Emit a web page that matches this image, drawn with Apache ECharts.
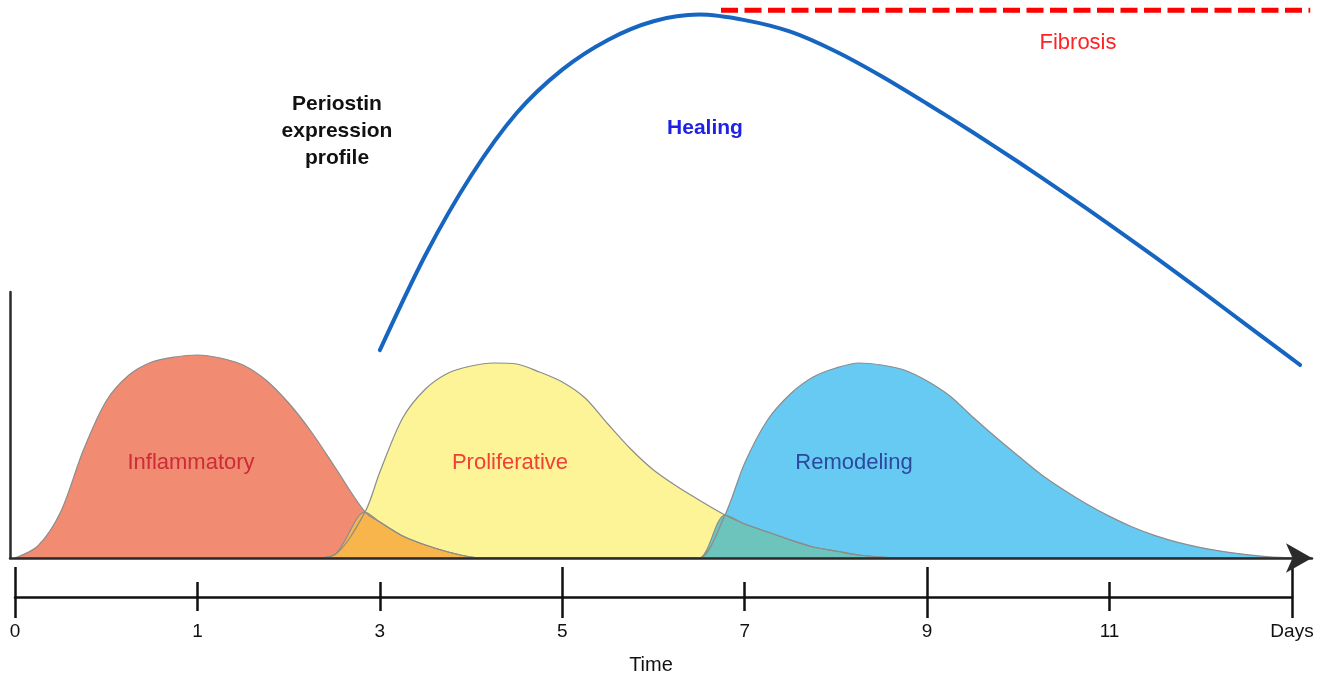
<!DOCTYPE html>
<html>
<head>
<meta charset="utf-8">
<title>Periostin expression profile</title>
<script src="https://cdn.jsdelivr.net/npm/echarts@6/dist/echarts.min.js"></script>
<style>
  html, body { margin: 0; padding: 0; background: #fff; }
  #chart { width: 1331px; height: 681px; }
</style>
</head>
<body>
<div id="chart"></div>
<script>
// timeline labels, one per evenly spaced position 0..7
const tickLabels = ['0', '1', '3', '5', '7', '9', '11', 'Days']
const longTicks = [0, 3, 5, 7] // positions that get the tall tick

// sample positions along the timeline, shared by the three phase curves
// (1.919 and 3.892 are where neighbouring phases cross)
const samplePos = [
  0, 0.125, 0.25, 0.375, 0.5, 0.625, 0.75, 0.875,
  1, 1.125, 1.25, 1.375, 1.5, 1.625, 1.75, 1.919,
  2, 2.125, 2.25, 2.375, 2.5, 2.625, 2.75, 2.875,
  3, 3.125, 3.25, 3.375, 3.5, 3.625, 3.75, 3.892,
  4, 4.125, 4.25, 4.375, 4.5, 4.625, 4.75, 4.875,
  5, 5.125, 5.25, 5.375, 5.5, 5.625, 5.75, 5.875,
  6, 6.125, 6.25, 6.375, 6.5, 6.625, 6.75, 6.875,
  7
]
const inflammatory = [
  0, 6, 23, 54, 78.5, 91.5, 98, 100.5,
  101.5, 100, 96.5, 89, 77.5, 63, 46, 23,
  18, 11, 6.5, 3, 0.5, 0, 0, 0,
  0, 0, 0, 0, 0, 0, 0, 0,
  0, 0, 0, 0, 0, 0, 0, 0,
  0, 0, 0, 0, 0, 0, 0, 0,
  0, 0, 0, 0, 0, 0, 0, 0,
  0
]
const proliferative = [
  0, 0, 0, 0, 0, 0, 0, 0,
  0, 0, 0, 0, 0, 0, 1.5, 23,
  43, 70, 84.5, 92.5, 96, 97.5, 97, 93,
  88, 80, 67, 54.5, 44, 36, 29, 21.5,
  17, 13, 9, 5.5, 3.5, 1.5, 0.5, 0,
  0, 0, 0, 0, 0, 0, 0, 0,
  0, 0, 0, 0, 0, 0, 0, 0,
  0
]
const remodeling = [
  0, 0, 0, 0, 0, 0, 0, 0,
  0, 0, 0, 0, 0, 0, 0, 0,
  0, 0, 0, 0, 0, 0, 0, 0,
  0, 0, 0, 0, 0, 0, 0, 21.5,
  47.5, 69, 82, 90.5, 95, 97.5, 96.5, 94,
  88.5, 81, 70.5, 60.5, 51, 41.8, 34, 27,
  20.8, 15.5, 11.2, 7.8, 5.2, 3.2, 1.7, 0.6,
  0
]

// periostin expression (healing curve) and the fibrosis level
const periostinPos = [2, 2.25, 2.5, 2.75, 3, 3.25, 3.5, 3.75, 4, 4.25, 4.5,
  4.75, 5, 5.25, 5.5, 5.75, 6, 6.25, 6.5, 6.75, 7, 7.044]
const healing = [37.8, 55.1, 69.5, 80.9, 88.8, 94.2, 97.6, 98.8, 97.8, 95.7, 92.1,
  87.6, 82.6, 77.4, 72.0, 66.4, 60.6, 54.7, 48.6, 42.4, 36.2, 35.1]
const fibrosisPos = [3.87, 7.1]
const fibrosisLevel = 99.6

const chart = echarts.init(document.getElementById('chart'))

const pairs = (xs, ys) => xs.map((x, i) => [x, ys[i]])
const overlap = (a, b) => a.map((v, i) => Math.min(v, b[i]))

function phase(name, values, fill) {
  return {
    name: name,
    type: 'line',
    xAxisIndex: 0,
    yAxisIndex: 0,
    data: pairs(samplePos, values),
    smooth: 0.3,
    symbol: 'none',
    silent: true,
    lineStyle: { color: '#8c8c8c', width: 1.2 },
    areaStyle: { color: fill, opacity: 1 }
  }
}

const axisColor = '#2b2b2b'
const hidden = { show: false }

function timelineAxis(long, inside, length, withLine, withLabel) {
  return {
    gridIndex: 2,
    type: 'category',
    data: tickLabels,
    boundaryGap: false,
    position: 'bottom',
    axisLine: { show: withLine, onZero: false, lineStyle: { color: '#111', width: 2.5 } },
    axisTick: {
      show: true,
      inside: inside,
      length: length,
      interval: (i) => longTicks.includes(i) === long,
      lineStyle: { color: '#111', width: 2.5 }
    },
    axisLabel: {
      show: withLabel,
      interval: 0,
      margin: 25,
      color: '#111',
      fontSize: 19,
      fontFamily: 'Liberation Sans Narrow, Liberation Sans, Arial, sans-serif'
    },
    splitLine: hidden
  }
}

chart.setOption({
  animation: false,
  backgroundColor: '#fff',
  grid: [
    { left: 10, right: 19, top: 292, height: 266, outerBoundsMode: 'none' },
    { left: 10, right: 19, top: 8, height: 550, outerBoundsMode: 'none' },
    { left: 15, right: 39, top: 568, height: 29, outerBoundsMode: 'none' }
  ],
  xAxis: [
    {
      gridIndex: 0, type: 'value', min: -0.0274, max: 7.1096, z: 10,
      axisLine: {
        show: true, onZero: false,
        symbol: ['none', 'arrow'], symbolSize: [22, 26],
        lineStyle: { color: axisColor, width: 2.5 }
      },
      axisTick: hidden, axisLabel: hidden, splitLine: hidden
    },
    {
      gridIndex: 1, type: 'value', min: -0.0274, max: 7.1096, show: false
    },
    timelineAxis(true, true, 30, true, true),
    timelineAxis(true, false, 21, false, false),
    timelineAxis(false, true, 15, false, false),
    timelineAxis(false, false, 14, false, false)
  ],
  yAxis: [
    {
      gridIndex: 0, type: 'value', min: 0, max: 133, z: 10,
      axisLine: { show: true, onZero: false, lineStyle: { color: axisColor, width: 2.5 } },
      axisTick: hidden, axisLabel: hidden, splitLine: hidden
    },
    { gridIndex: 1, type: 'value', min: 0, max: 100, show: false },
    { gridIndex: 2, type: 'value', min: 0, max: 1, show: false }
  ],
  series: [
    phase('Inflammatory', inflammatory, '#f18b71'),
    phase('Proliferative', proliferative, '#fdf497'),
    phase('Remodeling', remodeling, '#66caf2'),
    phase('Inflammatory / Proliferative', overlap(inflammatory, proliferative), '#f7b54c'),
    phase('Proliferative / Remodeling', overlap(proliferative, remodeling), '#6cc4bd'),
    {
      name: 'Healing',
      type: 'line',
      xAxisIndex: 1,
      yAxisIndex: 1,
      data: pairs(periostinPos, healing),
      smooth: 0.3,
      symbol: 'none',
      silent: true,
      lineStyle: { color: '#1665c1', width: 4, cap: 'round' }
    },
    {
      name: 'Fibrosis',
      type: 'line',
      xAxisIndex: 1,
      yAxisIndex: 1,
      data: fibrosisPos.map((x) => [x, fibrosisLevel]),
      symbol: 'none',
      silent: true,
      lineStyle: { color: '#ff0000', width: 5, type: [17, 6.5] }
    }
  ],
  graphic: [
    {
      type: 'text', x: 337, y: 131,
      style: {
        text: 'Periostin\nexpression\nprofile', fill: '#111',
        font: 'bold 21px "Liberation Sans", Arial, sans-serif', lineHeight: 27,
        align: 'center', verticalAlign: 'middle', textAlign: 'center', textVerticalAlign: 'middle'
      }
    },
    {
      type: 'text', x: 705, y: 128,
      style: {
        text: 'Healing', fill: '#1f22e6',
        font: 'bold 21px "Liberation Sans", Arial, sans-serif',
        align: 'center', verticalAlign: 'middle', textAlign: 'center', textVerticalAlign: 'middle'
      }
    },
    {
      type: 'text', x: 1078, y: 43,
      style: {
        text: 'Fibrosis', fill: '#ff2323',
        font: '22px "Liberation Sans", Arial, sans-serif',
        align: 'center', verticalAlign: 'middle', textAlign: 'center', textVerticalAlign: 'middle'
      }
    },
    {
      type: 'text', x: 191, y: 463, z: 20,
      style: {
        text: 'Inflammatory', fill: '#cc2b38',
        font: '22px "Liberation Sans", Arial, sans-serif',
        align: 'center', verticalAlign: 'middle', textAlign: 'center', textVerticalAlign: 'middle'
      }
    },
    {
      type: 'text', x: 510, y: 463, z: 20,
      style: {
        text: 'Proliferative', fill: '#ef4136',
        font: '22px "Liberation Sans", Arial, sans-serif',
        align: 'center', verticalAlign: 'middle', textAlign: 'center', textVerticalAlign: 'middle'
      }
    },
    {
      type: 'text', x: 854, y: 463, z: 20,
      style: {
        text: 'Remodeling', fill: '#2c4a9d',
        font: '22px "Liberation Sans", Arial, sans-serif',
        align: 'center', verticalAlign: 'middle', textAlign: 'center', textVerticalAlign: 'middle'
      }
    },
    {
      type: 'text', x: 651, y: 665,
      style: {
        text: 'Time', fill: '#111',
        font: '20px "Liberation Sans", Arial, sans-serif',
        align: 'center', verticalAlign: 'middle', textAlign: 'center', textVerticalAlign: 'middle'
      }
    }
  ]
})
</script>
</body>
</html>
